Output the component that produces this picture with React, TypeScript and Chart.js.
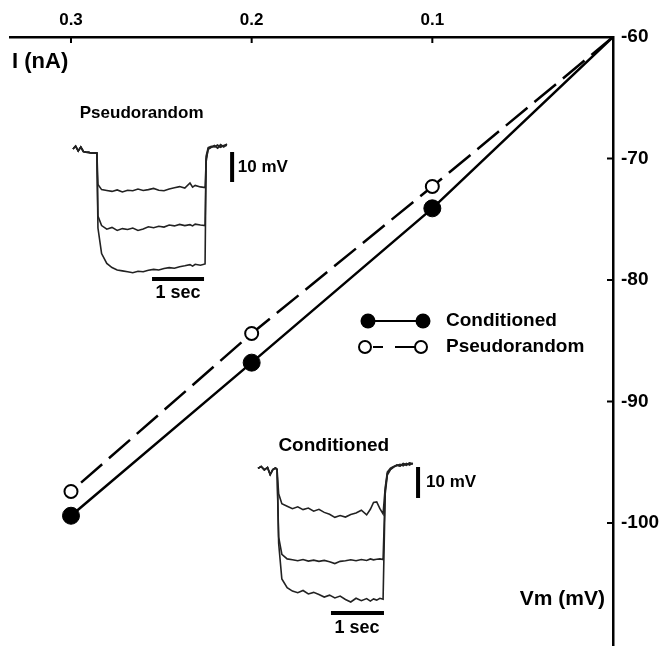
import React, { useEffect, useRef } from "react";
import { Chart, registerables } from "chart.js";

Chart.register(...registerables);

const FONT = '"Liberation Sans", Arial, Helvetica, sans-serif';

// ---- main I-V data ----
const currentNA = [0, 0.1, 0.2, 0.3];
const conditionedMV = [-60, -74.1, -86.8, -99.4];
const pseudorandomMV = [-60, -72.3, -84.4, -97.4];
const xTickValues = [0.1, 0.2, 0.3];
const yTickValues = [-60, -70, -80, -90, -100];

// ---- inset A: Pseudorandom voltage traces (time s, relative mV) ----
const aTime = [
  0, 0.05, 0.1, 0.15, 0.2, 0.25, 0.3, 0.35, 0.4, 0.46,
  0.48, 0.55, 0.65, 0.75, 0.85, 0.95, 1.05, 1.15, 1.25, 1.35, 1.45, 1.55, 1.65, 1.75, 1.85, 1.95, 2.05, 2.15, 2.25, 2.3, 2.35, 2.45, 2.54,
  2.56, 2.6, 2.66, 2.72, 2.78, 2.84, 2.9, 2.96,
];
const aBaseline = [0.3, 1.3, -0.3, 1.0, -0.5, -0.7, -0.8, -1.0, -1.0, -1.0];
const aTopPlateau = [-11.5, -13.2, -13.5, -13.8, -13.3, -14.0, -13.4, -13.6, -13.0, -13.5, -13.2, -12.8, -13.4, -13.6, -13.0, -12.6, -12.2, -12.7, -11.0, -12.4, -11.8, -12.3, -12.5];
const aTopRise = [-4, 0.5, 1.0, 1.3, 0.8, 1.8, 1.0, 2.0];
const aMidPlateau = [-22, -25.2, -26.4, -25.8, -26.8, -26.2, -26.5, -26.0, -26.8, -26.3, -25.6, -25.9, -25.4, -25.7, -25.0, -25.3, -24.8, -25.2, -24.9, -25.3, -24.7, -25.0, -25.2];
const aMidRise = [-3, 0.2, 0.9, 1.5, 0.6, 1.4, 1.2, 1.6];
const aLowPlateau = [-26, -34.5, -37.8, -39.2, -40.0, -40.3, -40.6, -40.9, -40.4, -40.6, -40.1, -39.8, -40.0, -39.5, -39.2, -39.4, -38.9, -38.6, -38.2, -38.7, -38.1, -38.4, -38.0];
const aLowRise = [-2, 0.8, 1.2, 1.0, 1.7, 0.9, 1.5, 1.9];

// ---- inset B: Conditioned voltage traces ----
const bTime = [
  0, 0.06, 0.12, 0.18, 0.23, 0.28, 0.33, 0.36,
  0.39, 0.45, 0.55, 0.65, 0.75, 0.85, 0.95, 1.05, 1.15, 1.25, 1.35, 1.45, 1.55, 1.65, 1.75, 1.85, 1.95, 2.05, 2.12, 2.18, 2.24, 2.3, 2.36,
  2.4, 2.44, 2.5, 2.56, 2.62, 2.68, 2.74, 2.8, 2.86, 2.92,
];
const bBaseline = [0.2, 0.8, -0.3, 0.5, -1.8, -0.2, 0.3, -0.1];
const bTopPlateau = [-8, -11.2, -12.0, -12.8, -12.2, -13.1, -12.6, -13.6, -13.0, -14.0, -14.6, -15.6, -15.0, -15.5, -14.7, -14.2, -13.3, -14.8, -13.0, -10.8, -10.6, -12.8, -14.5];
const bTopRise = [-6, -1, 0.3, 0.8, 1.2, 1.0, 1.8, 1.4, 2.0, 1.5];
const bMidPlateau = [-22, -27.5, -29.0, -29.3, -29.6, -29.2, -29.7, -29.4, -29.8, -29.5, -29.9, -30.5, -29.8, -29.6, -29.3, -29.6, -29.2, -29.5, -29.0, -29.3, -29.1, -29.0, -29.2];
const bMidRise = [-7, -1.5, 0.0, 0.7, 1.3, 0.9, 1.6, 1.2, 1.9, 1.6];
const bLowPlateau = [-24, -35.5, -38.3, -39.4, -39.9, -39.2, -40.3, -39.8, -40.5, -41.3, -40.7, -41.6, -41.0, -42.1, -42.9, -41.7, -42.5, -41.8, -42.6, -41.9, -42.3, -41.7, -42.0];
const bLowRise = [-8, -2, -0.2, 0.6, 1.1, 1.5, 1.0, 1.8, 1.3, 2.0];

// scale bars (10 mV, 1 sec)
const scaleBarMV = 10;
const scaleBarSec = 1;

const toPoints = (t: number[], v: number[]) => t.map((x, i) => ({ x, y: v[i] }));

const traceStyle = {
  borderColor: "#222",
  borderWidth: 1.6,
  pointRadius: 0,
  pointHoverRadius: 0,
  tension: 0,
  fill: false,
  showLine: true,
};

const overlay = {
  id: "overlay",
  afterDraw(chart: any) {
    const ctx = chart.ctx as CanvasRenderingContext2D;
    const { x, y, xA, yA, xB, yB } = chart.scales;
    ctx.save();
    ctx.strokeStyle = "#000";
    ctx.fillStyle = "#000";
    // inward tick marks
    ctx.lineWidth = 2;
    ctx.beginPath();
    xTickValues.forEach((v) => {
      const px = x.getPixelForValue(v);
      ctx.moveTo(px, y.top);
      ctx.lineTo(px, y.top + 6);
    });
    yTickValues.slice(1).forEach((v) => {
      const py = y.getPixelForValue(v);
      ctx.moveTo(x.right, py);
      ctx.lineTo(x.right - 6, py);
    });
    ctx.stroke();

    ctx.textBaseline = "middle";
    // axis titles
    ctx.font = `bold 22px ${FONT}`;
    ctx.textAlign = "left";
    ctx.fillText("I (nA)", x.left + 2, 62);
    ctx.font = `bold 21px ${FONT}`;
    ctx.textAlign = "right";
    ctx.fillText("Vm (mV)", x.right - 8, 599);

    // inset A labels / bars
    ctx.font = `bold 17px ${FONT}`;
    ctx.textAlign = "left";
    ctx.fillText("Pseudorandom", xA.getPixelForValue(0.13), yA.getPixelForValue(12.3));
    ctx.lineWidth = 4;
    ctx.beginPath();
    let bx = xA.getPixelForValue(3.06);
    ctx.moveTo(bx, yA.getPixelForValue(-0.7));
    ctx.lineTo(bx, yA.getPixelForValue(-0.7 - scaleBarMV));
    let by = yA.getPixelForValue(-43);
    ctx.moveTo(xA.getPixelForValue(1.52), by);
    ctx.lineTo(xA.getPixelForValue(1.52 + scaleBarSec), by);
    ctx.stroke();
    ctx.font = `bold 17px ${FONT}`;
    ctx.fillText("10 mV", xA.getPixelForValue(3.17), yA.getPixelForValue(-5.7));
    ctx.textAlign = "center";
    ctx.font = `bold 18px ${FONT}`;
    ctx.fillText("1 sec", xA.getPixelForValue(2.02), yA.getPixelForValue(-47.8));

    // inset B labels / bars
    ctx.font = `bold 19px ${FONT}`;
    ctx.textAlign = "center";
    ctx.fillText("Conditioned", xB.getPixelForValue(1.43), yB.getPixelForValue(7.4));
    ctx.beginPath();
    bx = xB.getPixelForValue(3.02);
    ctx.moveTo(bx, yB.getPixelForValue(0.65));
    ctx.lineTo(bx, yB.getPixelForValue(0.65 - scaleBarMV));
    by = yB.getPixelForValue(-46.45);
    ctx.moveTo(xB.getPixelForValue(1.377), by);
    ctx.lineTo(xB.getPixelForValue(1.377 + scaleBarSec), by);
    ctx.stroke();
    ctx.textAlign = "left";
    ctx.font = `bold 17px ${FONT}`;
    ctx.fillText("10 mV", xB.getPixelForValue(3.17), yB.getPixelForValue(-4.2));
    ctx.textAlign = "center";
    ctx.font = `bold 18px ${FONT}`;
    ctx.fillText("1 sec", xB.getPixelForValue(1.87), yB.getPixelForValue(-51.3));

    // legend
    const lx1 = 368, lx2 = 423, ly1 = 321, ly2 = 347;
    ctx.lineWidth = 2;
    ctx.beginPath();
    ctx.moveTo(lx1, ly1);
    ctx.lineTo(lx2, ly1);
    ctx.stroke();
    [lx1, lx2].forEach((cx) => {
      ctx.beginPath();
      ctx.arc(cx, ly1, 7.5, 0, Math.PI * 2);
      ctx.fill();
    });
    ctx.beginPath();
    ctx.moveTo(lx1 + 5, ly2);
    ctx.lineTo(lx1 + 15, ly2);
    ctx.moveTo(lx1 + 27, ly2);
    ctx.lineTo(lx2 - 5, ly2);
    ctx.stroke();
    [lx1 - 3, lx2 - 2].forEach((cx) => {
      ctx.beginPath();
      ctx.arc(cx, ly2, 6, 0, Math.PI * 2);
      ctx.fillStyle = "#fff";
      ctx.fill();
      ctx.stroke();
    });
    ctx.fillStyle = "#000";
    ctx.font = `bold 19px ${FONT}`;
    ctx.textAlign = "left";
    ctx.fillText("Conditioned", 446, ly1);
    ctx.fillText("Pseudorandom", 446, ly2);
    ctx.restore();
  },
};

export default function App() {
  const canvasRef = useRef<HTMLCanvasElement | null>(null);

  useEffect(() => {
    if (!canvasRef.current) return;
    const aTop = [...aBaseline, ...aTopPlateau, ...aTopRise];
    const aMid = [...aBaseline, ...aMidPlateau, ...aMidRise];
    const aLow = [...aBaseline, ...aLowPlateau, ...aLowRise];
    const bTop = [...bBaseline, ...bTopPlateau, ...bTopRise];
    const bMid = [...bBaseline, ...bMidPlateau, ...bMidRise];
    const bLow = [...bBaseline, ...bLowPlateau, ...bLowRise];

    const insetA = (v: number[]) => ({ ...traceStyle, data: toPoints(aTime, v), xAxisID: "xA", yAxisID: "yA" });
    const insetB = (v: number[]) => ({ ...traceStyle, data: toPoints(bTime, v), xAxisID: "xB", yAxisID: "yB" });

    const chart = new Chart(canvasRef.current, {
      type: "scatter",
      data: {
        datasets: [
          insetA(aTop),
          insetA(aMid),
          insetA(aLow),
          insetB(bTop),
          insetB(bMid),
          insetB(bLow),
          {
            label: "Pseudorandom",
            data: toPoints(currentNA, pseudorandomMV),
            showLine: true,
            borderColor: "#000",
            borderWidth: 2.5,
            borderDash: [28, 9],
            pointRadius: [0, 6.5, 6.5, 6.5],
            pointBackgroundColor: "#fff",
            pointBorderColor: "#000",
            pointBorderWidth: 2,
            xAxisID: "x",
            yAxisID: "y",
          },
          {
            label: "Conditioned",
            data: toPoints(currentNA, conditionedMV),
            showLine: true,
            borderColor: "#000",
            borderWidth: 2.5,
            pointRadius: [0, 8.5, 8.5, 8.5],
            pointBackgroundColor: "#000",
            pointBorderColor: "#000",
            pointBorderWidth: 1,
            xAxisID: "x",
            yAxisID: "y",
          },
        ] as any,
      },
      options: {
        responsive: false,
        maintainAspectRatio: false,
        animation: false,
        events: [],
        layout: { autoPadding: false, padding: { left: 10, right: 0, top: 0, bottom: 0 } },
        plugins: { legend: { display: false }, tooltip: { enabled: false } },
        scales: {
          x: {
            type: "linear",
            position: "top",
            reverse: true,
            min: 0,
            max: 0.33376,
            afterBuildTicks: (s: any) => {
              s.ticks = xTickValues.map((v) => ({ value: v }));
            },
            afterFit: (s: any) => {
              s.height = 37;
              s.paddingLeft = 0;
              s.paddingRight = 0;
            },
            grid: { drawOnChartArea: false, drawTicks: false },
            border: { display: true, color: "#000", width: 2.5 },
            ticks: {
              color: "#000",
              font: { family: FONT, size: 17, weight: "bold" },
              padding: 6,
              maxRotation: 0,
              autoSkip: false,
              callback: (v: any) => String(v),
            },
          },
          y: {
            type: "linear",
            position: "right",
            min: -110.12,
            max: -60,
            afterBuildTicks: (s: any) => {
              s.ticks = yTickValues.map((v) => ({ value: v }));
            },
            afterFit: (s: any) => {
              s.width = 48;
              s.paddingTop = 0;
              s.paddingBottom = 0;
            },
            grid: { drawOnChartArea: false, drawTicks: false },
            border: { display: true, color: "#000", width: 2.5 },
            ticks: {
              color: "#000",
              font: { family: FONT, size: 19, weight: "bold" },
              padding: 8,
              callback: (v: any) => String(v),
            },
          },
          xA: { type: "linear", display: false, min: -1.2115, max: 10.385 },
          yA: { type: "linear", display: false, min: -165.333, max: 37.667 },
          xB: { type: "linear", display: false, min: -4.679, max: 6.698 },
          yB: { type: "linear", display: false, min: -57.1, max: 139.35 },
        },
      } as any,
      plugins: [overlay],
    });
    return () => chart.destroy();
  }, []);

  return (
    <div style={{ position: "absolute", left: 0, top: 0, width: 661, height: 646, background: "#fff" }}>
      <canvas ref={canvasRef} width={661} height={646} style={{ width: 661, height: 646, display: "block" }} />
    </div>
  );
}
